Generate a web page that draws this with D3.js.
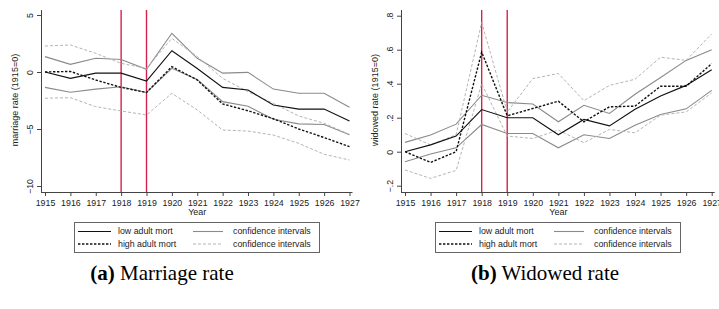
<!DOCTYPE html>
<html>
<head>
<meta charset="utf-8">
<script src="https://cdn.jsdelivr.net/npm/d3@7"></script>
<style>
  body { margin: 0; background: #fff; }
  svg { display: block; font-family: "Liberation Sans", Arial, sans-serif; }
</style>
</head>
<body>
<svg id="chart" width="719" height="309"></svg>
<script>
// years on the x axis
var years = [1915, 1916, 1917, 1918, 1919, 1920, 1921, 1922, 1923, 1924, 1925, 1926, 1927];
var markYears = [1918, 1919];

// (a) marriage rate
var marLow    = [0, -0.56, -0.1, -0.1, -0.8, 1.87, 0.3, -1.35, -1.58, -2.9, -3.25, -3.25, -4.3];
var marLowHi  = [1.35, 0.67, 1.2, 1.1, 0.23, 3.4, 1.2, -0.1, -0.03, -1.5, -1.87, -1.87, -3.1];
var marLowLo  = [-1.35, -1.78, -1.5, -1.3, -1.8, 0.32, -0.65, -2.6, -3.0, -4.15, -4.55, -4.6, -5.5];
var marHigh   = [0, 0.05, -0.7, -1.35, -1.8, 0.47, -0.7, -2.8, -3.4, -4.1, -5.0, -5.75, -6.55];
var marHighHi = [2.28, 2.37, 1.64, 0.76, 0.32, 2.95, 1.35, -0.56, -1.72, -2.75, -3.86, -4.5, -5.47];
var marHighLo = [-2.3, -2.25, -3.04, -3.42, -3.77, -1.87, -3.33, -5.09, -5.18, -5.53, -6.26, -7.22, -7.72];
var marTicks  = [-10, -5, 0, 5];

// (b) widowed rate
var widLow    = [0, 0.04, 0.092, 0.248, 0.2, 0.2, 0.1, 0.19, 0.152, 0.25, 0.328, 0.39, 0.482];
var widLowHi  = [0.055, 0.098, 0.162, 0.332, 0.289, 0.281, 0.176, 0.273, 0.225, 0.338, 0.436, 0.537, 0.6];
var widLowLo  = [-0.059, -0.014, 0.023, 0.16, 0.107, 0.107, 0.023, 0.1, 0.078, 0.156, 0.219, 0.252, 0.361];
var widHigh   = [0, -0.063, 0, 0.586, 0.211, 0.254, 0.297, 0.176, 0.264, 0.268, 0.385, 0.385, 0.518];
var widHighHi = [0.107, 0.04, 0.1, 0.76, 0.234, 0.43, 0.46, 0.3, 0.39, 0.426, 0.556, 0.537, 0.693];
var widHighLo = [-0.107, -0.157, -0.11, 0.4, 0.092, 0.078, 0.127, 0.053, 0.131, 0.111, 0.215, 0.234, 0.346];
var widTicks  = [-0.2, 0, 0.2, 0.4, 0.6, 0.8];

var legendLabels = ["low adult mort", "high adult mort", "confidence intervals", "confidence intervals"];

var styles = {
  low:    { stroke: "#111", width: 1.15, dash: null },
  high:   { stroke: "#111", width: 1.4, dash: "2.4,1.6" },
  lowCI:  { stroke: "#8a8a8a", width: 1.1, dash: null },
  highCI: { stroke: "#b4b4b4", width: 1, dash: "3,2" }
};

var svg = d3.select("#chart");

function panel(opt) {
  var g = svg.append("g");
  var x = d3.scaleLinear().domain([1915, 1927]).range(opt.xr);
  var y = d3.scaleLinear().domain(opt.yd).range([opt.yr[0], opt.yr[1]]);
  var top = 10, bottom = 192;

  // event lines
  g.selectAll("line.mark").data(markYears).enter().append("line")
    .attr("class", "mark")
    .attr("x1", function (d) { return x(d); }).attr("x2", function (d) { return x(d); })
    .attr("y1", top).attr("y2", bottom)
    .attr("stroke", "#d8204e").attr("stroke-width", 1.4);

  var line = d3.line()
    .x(function (d, i) { return x(years[i]); })
    .y(function (d) { return y(d); });

  var series = [
    [opt.lowHi, styles.lowCI], [opt.lowLo, styles.lowCI],
    [opt.highHi, styles.highCI], [opt.highLo, styles.highCI],
    [opt.high, styles.high], [opt.low, styles.low]
  ];
  g.selectAll("path.series").data(series).enter().append("path")
    .attr("class", "series")
    .attr("d", function (d) { return line(d[0]); })
    .attr("fill", "none")
    .attr("stroke", function (d) { return d[1].stroke; })
    .attr("stroke-width", function (d) { return d[1].width; })
    .attr("stroke-dasharray", function (d) { return d[1].dash; });

  // y axis
  var ya = g.append("g").attr("transform", "translate(" + opt.ax + ",0)")
    .call(d3.axisLeft(y).tickValues(opt.ticks).tickFormat(opt.fmt).tickSize(4).tickSizeOuter(0));
  ya.select(".domain").attr("d", "M0.5," + bottom + "V" + top);
  ya.selectAll("text")
    .attr("transform", "rotate(-90)")
    .attr("x", 0).attr("y", -8).attr("dy", 0)
    .attr("text-anchor", "middle")
    .style("font-size", "8.8px").attr("fill", "#222");

  g.append("text")
    .attr("transform", "translate(" + (opt.ax - 23) + ",100) rotate(-90)")
    .attr("text-anchor", "middle")
    .style("font-size", "9px").attr("fill", "#222")
    .text(opt.ytitle);

  // x axis
  var xa = g.append("g").attr("transform", "translate(0," + bottom + ")")
    .call(d3.axisBottom(x).tickValues(years).tickFormat(d3.format("d")).tickSize(4).tickSizeOuter(0));
  xa.select(".domain").attr("d", "M" + opt.ax + ",0.5H" + (opt.xr[1] + 3));
  xa.selectAll("text").attr("y", 7.5).style("font-size", "8.8px").attr("fill", "#222");
  g.selectAll(".domain, .tick line").attr("stroke", "#444");

  g.append("text")
    .attr("x", (opt.xr[0] + opt.xr[1]) / 2).attr("y", 215)
    .attr("text-anchor", "middle")
    .style("font-size", "9px").attr("fill", "#222")
    .text("Year");

  // legend
  var lg = g.append("g").attr("transform", "translate(" + opt.lx + ",222)");
  lg.append("rect").attr("x", 0.5).attr("y", 0.5).attr("width", 245).attr("height", 30)
    .attr("fill", "#fff").attr("stroke", "#666");
  var items = [
    { label: legendLabels[0], s: styles.low, col: 0, row: 0 },
    { label: legendLabels[1], s: styles.high, col: 0, row: 1 },
    { label: legendLabels[2], s: styles.lowCI, col: 1, row: 0 },
    { label: legendLabels[3], s: styles.highCI, col: 1, row: 1 }
  ];
  var it = lg.selectAll("g.item").data(items).enter().append("g")
    .attr("transform", function (d) {
      return "translate(" + (d.col ? 119 : 4) + "," + (d.row ? 22 : 9.5) + ")";
    });
  it.append("line").attr("x1", 0).attr("x2", function (d) { return d.col ? 30 : 33; })
    .attr("stroke", function (d) { return d.s.stroke; })
    .attr("stroke-width", function (d) { return d.s.width; })
    .attr("stroke-dasharray", function (d) { return d.s.dash; });
  it.append("text").attr("x", 40).attr("dy", "0.33em")
    .style("font-size", "8.8px").attr("fill", "#222")
    .text(function (d) { return d.label; });

  // caption
  var cap = g.append("text")
    .attr("x", opt.cx).attr("y", 280)
    .attr("text-anchor", "middle")
    .style("font-family", "'Liberation Serif', 'Times New Roman', serif")
    .style("font-size", "21px").attr("fill", "#000");
  cap.append("tspan").style("font-weight", "bold").text(opt.tag);
  cap.append("tspan").text(" " + opt.caption);
}

panel({
  xr: [45, 349.5], ax: 41, yd: [-10, 5], yr: [186, 15], ticks: marTicks,
  fmt: d3.format("d"), ytitle: "marriage rate (1915=0)",
  low: marLow, lowHi: marLowHi, lowLo: marLowLo,
  high: marHigh, highHi: marHighHi, highLo: marHighLo,
  lx: 74, cx: 162, tag: "(a)", caption: "Marriage rate"
});

panel({
  xr: [405, 711.7], ax: 401, yd: [-0.2, 0.8], yr: [185.7, 15.7], ticks: widTicks,
  fmt: function (d) { return d === 0 ? "0" : d3.format(".1f")(d).replace("0.", "."); },
  ytitle: "widowed rate (1915=0)",
  low: widLow, lowHi: widLowHi, lowLo: widLowLo,
  high: widHigh, highHi: widHighHi, highLo: widHighLo,
  lx: 435, cx: 545, tag: "(b)", caption: "Widowed rate"
});
</script>
</body>
</html>
